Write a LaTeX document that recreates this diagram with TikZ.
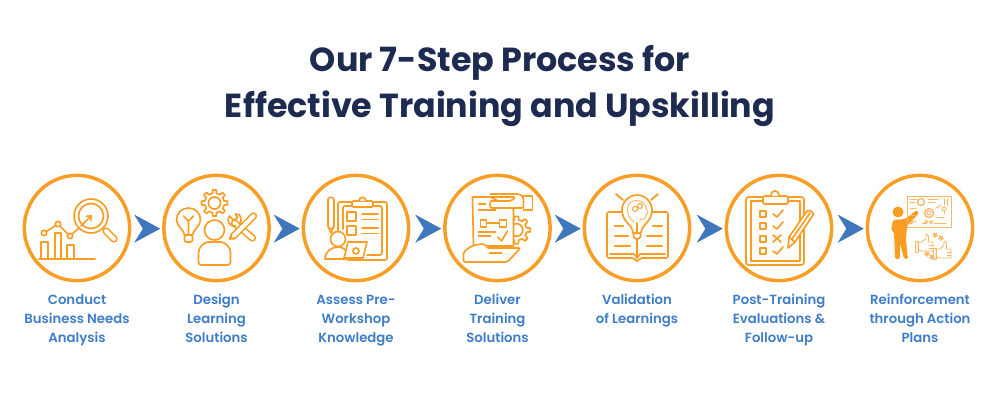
\documentclass[tikz,border=0pt]{standalone}
\usepackage{fontspec}
\setmainfont{Poppins SemiBold}
\newfontfamily\titlefont{Poppins}
\usetikzlibrary{arrows.meta,positioning}

\definecolor{ringorange}{HTML}{F99D25}
\definecolor{paleorange}{HTML}{FAB765}
\definecolor{stepblue}{HTML}{3F7CC8}
\definecolor{arrowblue}{HTML}{3F77BC}
\definecolor{titlenavy}{HTML}{1E2B50}

\tikzset{
  steproundel/.style={circle,draw=ringorange,line width=2.6pt,minimum size=79pt,inner sep=0pt},
  steplabel/.style={text=stepblue,font=\fontsize{9.95}{14.25}\selectfont,align=center,inner sep=0pt},
  nextarrow/.style={draw=arrowblue,line width=0.4pt,shorten <=13.5*0.75pt,shorten >=1.4pt,
    -{Stealth[length=19.5pt,width=21pt,inset=6.5pt,color=arrowblue]}},
  iconline/.style={draw=ringorange,line width=1.25pt,line join=round,line cap=round},
  iconthin/.style={draw=paleorange,line width=0.7pt,line join=round,line cap=round},
  hollowbar/.style={iconline,double=white,double distance=3pt},
  gearicon/.pic={
    \draw[iconline,fill=white] (-12:9)
      \foreach \a in {0,45,...,315}{ -- (\a-12:9) -- (\a-8:12) -- (\a+8:12) -- (\a+12:9) -- (\a+33:9)} -- cycle;
    \draw[iconline] (0,0) circle [radius=5.5];
  },
  thumbicon/.pic={
    \draw[iconthin,fill=white] (-8,-1) -- (-4,-1) -- (0,-5) -- (0,-9) .. controls (3,-9) and (3,-4) .. (2,-1)
      -- (7,-1) -- (7,8) -- (-4,8) -- (-8,7) -- cycle;
    \draw[iconthin] (-8,-2) rectangle (-11,9);
    \foreach \y in {2,5}{ \draw[iconthin] (3,\y) -- (7,\y); }
  },
  starmark/.pic={
    \draw[iconthin] (90:2.6) -- (234:2.6) -- (18:2.6) -- (162:2.6) -- (306:2.6) -- cycle;
  }
}

\begin{document}
\begin{tikzpicture}[x=0.75pt,y=-0.75pt]
  \useasboundingbox (0,0) rectangle (1000,400);

  \node[text=titlenavy,font=\titlefont\bfseries\fontsize{25}{34.5}\selectfont,align=center,inner sep=0pt] (title) at (500,86)
    {Our 7-Step Process for\\Effective Training and Upskilling};

  % circles and captions
  \foreach \i/\x/\caption in {
      1/77/{Conduct\\Business Needs\\Analysis},
      2/216.5/{Design\\Learning\\Solutions},
      3/356/{Assess Pre-\\Workshop\\Knowledge},
      4/497.5/{Deliver\\Training\\Solutions},
      5/637/{Validation\\of Learnings},
      6/779/{Post-Training\\Evaluations \&\\Follow-up},
      7/920/{Reinforcement\\through Action\\Plans}}{
    \node[steproundel] (step\i) at (\x,228) {};
    \node[steplabel,anchor=north] (label\i) at (\x,288) {\rule{0pt}{12pt}\caption};
  }

  \foreach \i/\j in {1/2,2/3,3/4,4/5,5/6,6/7}{
    \draw[nextarrow] ([yshift=-0.5pt]step\i.east) -- ([yshift=-0.5pt]step\j.west);
  }

  % chart and magnifier
  \begin{scope}[shift={([yshift=-0.75pt]step1.center)}]
    \draw[iconline] (-38,30) -- (18,30);
    \draw[iconline] (-36,30) -- (-36,13) -- (-29,13) -- (-29,30);
    \draw[iconline] (-22,30) -- (-22,4) -- (-16,4) -- (-16,30);
    \draw[iconline] (-10,30) -- (-10,16) -- (-3,16) -- (-3,30);
    \draw[iconline] (-33,4) -- (-19,-5) -- (-7,7) -- (2,-1);
    \foreach \x/\y in {-33/4,-19/-5,-7/7}{
      \draw[iconline,fill=white] (\x,\y) circle [radius=2.7];
    }
    \draw[iconline] (14,-13) circle [radius=17];
    \draw[iconline] (14,-13) circle [radius=12.5];
    \draw[iconline,-{Straight Barb[length=3pt,width=5pt]}] (4,-3) -- (15,-14);
    \draw[iconline] (26,-1) -- (28,1);
    \draw[hollowbar] (29,2) -- (37,10);
  \end{scope}

  % bulb, gear, person and tools
  \begin{scope}[shift={([yshift=-0.75pt]step2.center)}]
    \pic[scale=1.1] at (-2,-26) {gearicon};
    \draw[iconline] (-32,6) .. controls (-33,0) and (-40,-3) .. (-40,-9) .. controls (-40,-16) and (-35,-21) .. (-28,-21)
      .. controls (-21,-21) and (-16,-16) .. (-16,-9) .. controls (-16,-3) and (-23,0) .. (-24,6) -- cycle;
    \draw[iconline,rounded corners=1.5pt] (-32,6) rectangle (-24,13);
    \draw[iconline] (-28,6) -- (-28,-8) -- (-33,-13);
    \draw[iconline] (-28,-8) -- (-23,-13);
    \draw[iconline] (-2,1) circle [radius=10];
    \draw[iconline,rounded corners=2pt] (-18,36) -- (14,36) -- (14,26) .. controls (14,18) and (8,13) .. (2,13)
      -- (-6,13) .. controls (-12,13) and (-18,18) .. (-18,26) -- cycle;
    \draw[hollowbar] (18,-6) -- (36,9);
    \draw[iconline] (19,-3) .. controls (12,-2) and (10,-9) .. (13,-13) -- (17,-9) -- (21,-11) -- (19,-15)
      .. controls (25,-16) and (26,-8) .. (23,-5);
    \draw[hollowbar] (17,7) -- (37,-13);
    \draw[iconline] (15,5) -- (13,10) -- (19,9);
  \end{scope}

  % clipboard, pencil and learner
  \begin{scope}[shift={([yshift=-0.75pt]step3.center)}]
    \draw[hollowbar] (-25,-29) -- (-25,-3);
    \draw[iconline] (-28,-3) -- (-25,4) -- (-22,-3);
    \draw[iconline,rounded corners=1.5pt] (-18,8) -- (-18,-27) -- (31,-27) -- (31,31) -- (-8,31);
    \draw[iconline,rounded corners=1.5pt] (-13,0) -- (-13,-23) -- (26,-23) -- (26,26) -- (11,26);
    \draw[iconline,fill=white,rounded corners=1pt] (-4,-22) rectangle (17,-28);
    \draw[iconline,fill=white] (3,-28) .. controls (3,-33) and (10,-33) .. (10,-28);
    \foreach \y in {-17,-3}{
      \draw[iconline] (-9,\y) rectangle (0,\y+9);
      \draw[iconline] (6,\y+2) -- (22,\y+2);
      \draw[iconline] (6,\y+7.5) -- (22,\y+7.5);
    }
    \draw[iconline,fill=white] (-18,10) circle [radius=7.5];
    \draw[iconline,fill=white] (-31,30) .. controls (-31,22) and (-24,18) .. (-18,18) .. controls (-14,18) and (-10,20) .. (-9,24) -- (-9,30) -- cycle;
    \draw[iconline,fill=white] (-8,13) -- (11,13) -- (7,29) -- (-12,29) -- cycle;
    \draw[iconline] (0,22) circle [radius=3];
  \end{scope}

  % document between two hands
  \begin{scope}[shift={([yshift=-0.75pt]step4.center)}]
    \pic[scale=1.15] at (19,1) {gearicon};
    \draw[iconline,fill=white] (-25,-32) -- (-7,-32) -- (16,-20) -- (16,17) -- (-24,17) -- cycle;
    \draw[iconline,fill=white,rounded corners=1.5pt] (-7,-35) -- (22,-35) -- (26,-32) -- (26,-21) -- (-4,-21)
      .. controls (-8,-21) and (-8,-28) .. (-4,-28) -- (14,-28) -- (18,-32) -- (-7,-32);
    \draw[iconline] (26,-33) rectangle (35,-19);
    \draw[iconline] (-19,-25) -- (-12,-25);
    \draw[iconline] (-19,-19) -- (-2,-19);
    \draw[iconline] (-17,-9) rectangle (-11,-2);
    \draw[iconline] (2,-9) rectangle (9,-2);
    \draw[iconline] (-11,-6) -- (2,-6);
    \draw[iconline] (-19,3) -- (-2,3);
    \draw[iconline] (-19,7) -- (-7,7);
    \draw[iconline] (0,8) -- (4,12) -- (10,2);
    \draw[iconline,fill=white,rounded corners=1.5pt] (-34,33) -- (-34,23) -- (-26,17) -- (-17,15) .. controls (-12,15) and (-10,19) .. (-7,19)
      -- (23,19) -- (10,33) -- cycle;
    \draw[iconline] (-8,24) -- (4,24);
  \end{scope}

  % open book and bulb
  \begin{scope}[shift={([yshift=-0.75pt]step5.center)}]
    \draw[iconline,rounded corners=1.5pt] (-12,-17) -- (-30,-17) -- (-30,29) -- (-3,29) -- (0,33) -- (3,29) -- (31,29) -- (31,-17) -- (13,-17);
    \draw[iconline] (-27,25) -- (-3,25) -- (0,29) -- (3,25) -- (28,25);
    \draw[iconline] (0,10) -- (0,29);
    \draw[iconline,fill=white] (-4,4) .. controls (-4,-4) and (-15,-7) .. (-15,-19) .. controls (-15,-27) and (-8,-34) .. (0,-34)
      .. controls (8,-34) and (15,-27) .. (15,-19) .. controls (15,-7) and (4,-4) .. (4,4) -- cycle;
    \draw[iconline,fill=white,rounded corners=1.5pt] (-4,4) -- (4,4) -- (3,10) -- (-3,10) -- cycle;
    \draw[iconline] (0,4) -- (0,-6);
    \draw[iconthin] (-3,-7) .. controls (-10,-12) and (-11,-20) .. (-8,-25) .. controls (-3,-31) and (8,-29) .. (9,-21) -- (11,-16) -- (9,-15) .. controls (9,-10) and (7,-9) .. (3,-10) -- (3,-7);
    \draw[iconline,line width=0.7pt] (-2,-20) circle [radius=2.5];
    \draw[iconline,line width=0.7pt] (3,-23) circle [radius=2.5];
    \foreach \xa/\xb/\y in {-22/-14/-3,-22/-9/7,-22/-7/17,16/25/-3,10/25/7,10/25/17}{
      \draw[iconline,line width=1.6pt] (\xa,\y) -- (\xb,\y);
    }
    \draw[iconline,line width=1.4pt] (-21,-35) -- (-14,-29);
    \draw[iconline,line width=1.4pt] (21,-35) -- (14,-29);
  \end{scope}

  % evaluation checklist
  \begin{scope}[shift={([yshift=-0.75pt]step6.center)}]
    \draw[iconline,rounded corners=2pt] (-33,-32) rectangle (25,36);
    \draw[iconline] (-28,-28) rectangle (21,32);
    \draw[iconline,fill=white,rounded corners=1pt] (-16,-33) rectangle (9,-25);
    \draw[iconline,fill=white] (-8,-33) .. controls (-8,-40) and (0,-40) .. (0,-33);
    \foreach \y in {-18,-6,19}{
      \draw[iconline] (-19,\y) rectangle (-13,\y+6);
      \draw[iconline] (-6,\y+3) -- (-2,\y+6) -- (4,\y-1);
    }
    \draw[iconline] (-19,7) rectangle (-13,13);
    \draw[iconline] (-6,6) -- (2,13);
    \draw[iconline] (2,6) -- (-6,13);
    \draw[iconline,fill=white] (9,19) -- (10,8) -- (28,-18) .. controls (30,-20) and (36,-16) .. (34,-14) -- (16,13) -- cycle;
    \draw[iconline] (10,8) -- (16,13);
    \draw[iconline] (13,10) -- (31,-16);
  \end{scope}

  % presenter, board and thumbs
  \begin{scope}[shift={([yshift=-0.75pt]step7.center)}]
    \fill[ringorange] (-22,-17) circle [radius=5.5];
    \fill[ringorange,rounded corners=1.2pt] (-27,-9) -- (-15,-10) -- (-3,-19) -- (-1,-16) -- (-13,-3) -- (-14,11)
      -- (-12,30) -- (-16,30) -- (-20,14) -- (-20,30) -- (-25,30) -- (-26,3) -- (-29,1) -- cycle;
    \draw[iconthin] (-13,-33) rectangle (31,-2);
    \draw[iconthin,line width=1pt] (9,-16) circle [radius=4.5];
    \draw[iconthin] (9,-16) circle [radius=2];
    \draw[iconthin,line width=1pt] (1,-27) circle [radius=3.5];
    \foreach \xa/\ya/\xb/\yb in {-10/-30/-3/-30,-10/-27/-5/-27,8/-30/18/-30,8/-27/15/-27,-10/-21/-4/-21,-4/-8/-10/-5,
        -10/-5/-7/-9,16/-21/21/-24,16/-12/24/-12,6/-6/2/-6,14/-6/26/-6,24/-30/24/-24,27/-30/27/-24,24/-18/24/-15,
        -10/-14/-5/-14}{
      \draw[iconthin] (\xa,\ya) -- (\xb,\yb);
    }
    \draw[iconthin] (24,-20) circle [radius=2];
    \draw[iconthin] (6,-7) circle [radius=1.6];
    \draw[iconthin] (11,-7) circle [radius=1.6];
    \pic at (6,14) {thumbicon};
    \pic at (24,21) {thumbicon};
    \foreach \x/\y in {15/6,21/9,7/25,12/28}{
      \pic at (\x,\y) {starmark};
    }
  \end{scope}
\end{tikzpicture}
\end{document}
